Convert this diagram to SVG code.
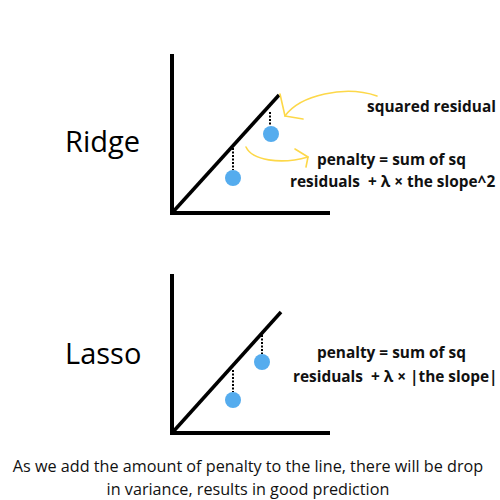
<svg xmlns="http://www.w3.org/2000/svg" width="500" height="500" viewBox="0 0 500 500">
<style>
.axis{stroke:#000;stroke-width:4;fill:none}
.fit{stroke:#000;stroke-width:3.5;fill:none}
.dot{fill:#55ACEE}
.res{stroke:#000;stroke-width:2;stroke-dasharray:2 1.5;fill:none}
.yel{stroke:#FDD849;stroke-width:1.6;fill:none;stroke-linecap:round;stroke-linejoin:round}
.lbl{font-family:"Open Sans","Noto Sans",sans-serif;font-size:29px;fill:#000}
.bold{font-family:"Open Sans","Noto Sans",sans-serif;font-weight:bold;font-size:15.4px;fill:#111}
.cap{font-family:"Open Sans","Noto Sans",sans-serif;font-size:16.2px;fill:#111;text-anchor:middle}
</style>
<rect width="500" height="500" fill="#fff"/>
<g id="ridge">
<text class="lbl" x="65" y="152">Ridge</text>
<path class="axis" d="M172 54V213H330"/>
<line class="fit" x1="172" y1="213" x2="279" y2="95"/>
<line class="res" x1="233" y1="148" x2="233" y2="170"/>
<line class="res" x1="270" y1="112" x2="270" y2="126"/>
<circle class="dot" cx="233" cy="178" r="8"/>
<circle class="dot" cx="271" cy="134" r="8"/>
<text class="bold" x="367" y="112">squared residual</text>
<text class="bold" x="317" y="165">penalty = sum of sq</text>
<text class="bold" x="290" y="187" xml:space="preserve">residuals  + λ × the slope^2</text>
</g>
<g id="lasso">
<text class="lbl" x="65" y="364">Lasso</text>
<path class="axis" d="M172 274V433H330"/>
<line class="fit" x1="172" y1="433" x2="281" y2="312"/>
<line class="res" x1="233" y1="370" x2="233" y2="392"/>
<line class="res" x1="262" y1="335" x2="262" y2="354"/>
<circle class="dot" cx="233" cy="400" r="8"/>
<circle class="dot" cx="262" cy="362" r="8"/>
<text class="bold" x="317" y="358">penalty = sum of sq</text>
<text class="bold" x="293" y="382" xml:space="preserve">residuals  + λ × |the slope|</text>
</g>
<g id="connectors">
<path class="yel" d="M377 96C345 85 300 95 285 116"/>
<path class="yel" d="M280 94L285 116L303 119"/>
<path class="yel" d="M246 147C252 160 280 165 308 157"/>
<path class="yel" d="M295 149L308 157L306 167"/>
</g>
<g id="caption">
<text class="cap" x="248" y="472">As we add the amount of penalty to the line, there will be drop</text>
<text class="cap" x="248" y="495">in variance, results in good prediction</text>
</g>
</svg>
